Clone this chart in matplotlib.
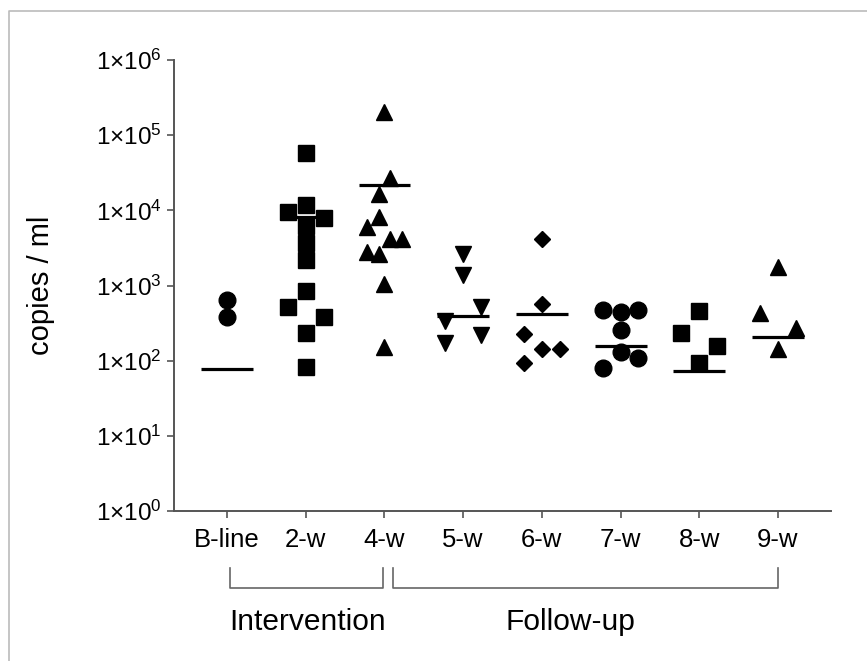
import matplotlib
matplotlib.use('Agg')
import matplotlib.pyplot as plt
import matplotlib.transforms as mtransforms
from matplotlib.lines import Line2D
import numpy as np

plt.rcParams['font.family'] = ['Liberation Sans', 'DejaVu Sans']
plt.rcParams['mathtext.fontset'] = 'custom'
plt.rcParams['mathtext.rm'] = 'Liberation Sans'
plt.rcParams['mathtext.it'] = 'Liberation Sans'

# categories and groups
categories = ['B-line', '2-w', '4-w', '5-w', '6-w', '7-w', '8-w', '9-w']
groups = ['Intervention', 'Follow-up']
group_spans = [(0, 2), (2, 7)]

# copies / ml per time point
vals_bline = [645, 380]
vals_2w = [57500, 9500, 11700, 7900, 6200, 3650, 2180, 845, 515, 380, 235, 82]
vals_4w = [203000, 26800, 16500, 8100, 6000, 4150, 4150, 2770, 2600, 1040, 152]
vals_5w = [2610, 1380, 515, 335, 218, 171]
vals_6w = [4150, 565, 225, 142, 142, 93]
vals_7w = [470, 445, 470, 257, 130, 108, 80]
vals_8w = [457, 234, 156, 93]
vals_9w = [1750, 430, 272, 142]
values = [vals_bline, vals_2w, vals_4w, vals_5w, vals_6w, vals_7w, vals_8w, vals_9w]

# horizontal line per time point
line_vals = [77, 8100, 21700, 390, 415, 156, 73, 205]

# scatter slot per point (column scatter offsets)
slots = [
    [0, 0],
    [0, -3, 0, 3, 0, 0, 0, 0, -3, 3, 0, 0],
    [0, 1, -1, -1, -3, 1, 3, -3, -1, 0, 0],
    [0, 0, 3, -3, 3, -3],
    [0, 0, -3, 0, 3, -3],
    [-3, 0, 3, 0, 0, 3, -3],
    [0, -3, 3, 0],
    [0, -3, 3, 0],
]

markers = ['o', 's', '^', 'v', 'D', 'o', 's', '^']
msizes = [12, 11, 11, 11, 8, 12, 11, 11]

slot_w = 0.076
half_line = 0.33

fig = plt.figure(figsize=(8.67, 6.61), dpi=100)
ax = fig.add_axes([0.2007, 0.2269, 0.7578, 0.6823])

for i, vals in enumerate(values):
    xs = [i + s * slot_w for s in slots[i]]
    ax.plot(xs, vals, linestyle='none', marker=markers[i], ms=msizes[i],
            color='black', mec='black', zorder=3, clip_on=False)
    ax.plot([i - half_line, i + half_line], [line_vals[i]] * 2, color='black',
            lw=2.3, zorder=2, solid_capstyle='butt')

ax.set_yscale('log')
ax.set_ylim(1, 1e6)
ax.set_xlim(-0.675, 7.675)
yt = [10.0 ** k for k in range(7)]
ax.set_yticks(yt)
ax.set_yticklabels([r'1×10$^{%d}$' % k for k in range(7)])
ax.yaxis.set_minor_locator(matplotlib.ticker.NullLocator())
ax.set_xticks(range(len(categories)))
ax.set_xticklabels(categories)

for pos in ['top', 'right']:
    ax.spines[pos].set_visible(False)
for pos in ['left', 'bottom']:
    ax.spines[pos].set_color('#555555')
    ax.spines[pos].set_linewidth(1.4)

ax.tick_params(axis='y', length=5, width=1.2, color='#555555', labelsize=17.5, pad=4)
ax.tick_params(axis='x', length=5, width=1.2, color='#555555', labelsize=18.5, pad=7)

ax.set_ylabel('copies / ml', fontsize=21)
ax.yaxis.set_label_coords(-0.181, 0.5)

# group brackets under the axis
trans = mtransforms.blended_transform_factory(ax.transData, ax.transAxes)
gap = 0.06
y_top, y_bot = -0.126, -0.171
for (a, b), k in zip(group_spans, range(len(groups))):
    left = a + (0.04 if k == 0 else gap * 1.7)
    right = b - (0.02 if k == 0 else 0)
    ax.add_line(Line2D([left, left, right, right], [y_top, y_bot, y_bot, y_top],
                       transform=trans, color='#666666', lw=1.2, clip_on=False))
ax.text(1.02, -0.264, groups[0], transform=trans, ha='center', va='baseline', fontsize=21.5)
ax.text(4.36, -0.264, groups[1], transform=trans, ha='center', va='baseline', fontsize=21.5)

# thin border top and left like the source image
fig.add_artist(Line2D([9 / 867, 9 / 867, 1], [0, 1 - 11 / 661, 1 - 11 / 661],
                      transform=fig.transFigure, color='#bbbbbb', lw=1.2))

plt.savefig('out.png', dpi=100)
